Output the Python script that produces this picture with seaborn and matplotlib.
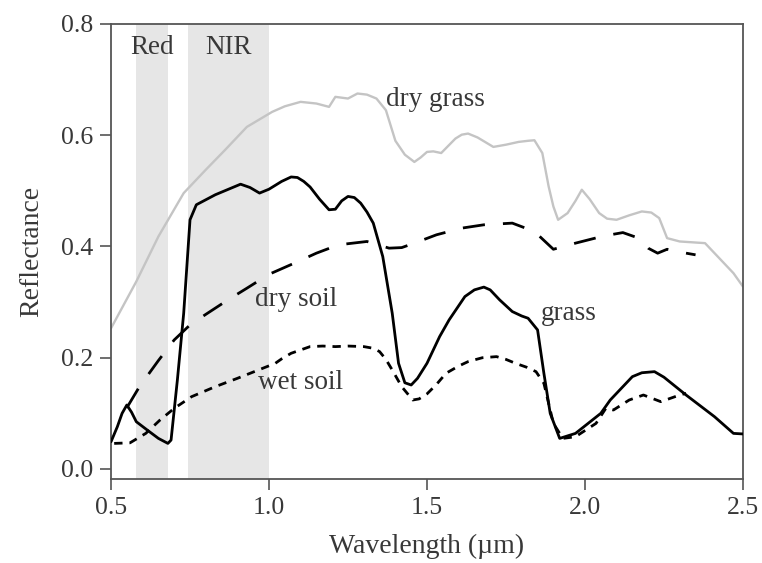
import numpy as np
import pandas as pd
import matplotlib
matplotlib.use("Agg")
import matplotlib.pyplot as plt
import seaborn as sns

# ---- data ----
grass_x = [0.50, 0.52, 0.535, 0.55, 0.565, 0.58, 0.61, 0.65, 0.68, 0.69, 0.71, 0.73, 0.75, 0.77, 0.83, 0.91,
           0.94, 0.97, 1.00, 1.04, 1.07, 1.09, 1.11, 1.13, 1.16, 1.19, 1.21, 1.23, 1.25, 1.27, 1.29, 1.31,
           1.33, 1.36, 1.39, 1.41, 1.43, 1.45, 1.47, 1.50, 1.54, 1.57, 1.62, 1.65, 1.68, 1.70, 1.73, 1.77,
           1.80, 1.82, 1.85, 1.87, 1.89, 1.92, 1.97, 2.01, 2.05, 2.08, 2.15, 2.18, 2.22, 2.25, 2.32, 2.41,
           2.47, 2.50]
grass_y = [0.049, 0.076, 0.100, 0.115, 0.102, 0.085, 0.072, 0.055, 0.046, 0.052, 0.160, 0.280, 0.448, 0.475,
           0.493, 0.512, 0.506, 0.496, 0.503, 0.517, 0.525, 0.524, 0.517, 0.507, 0.485, 0.466, 0.467, 0.482,
           0.490, 0.488, 0.478, 0.462, 0.442, 0.382, 0.280, 0.190, 0.155, 0.151, 0.163, 0.190, 0.238, 0.268,
           0.310, 0.322, 0.327, 0.322, 0.304, 0.283, 0.275, 0.271, 0.250, 0.172, 0.100, 0.055, 0.064, 0.082,
           0.100, 0.124, 0.166, 0.173, 0.175, 0.165, 0.133, 0.094, 0.064, 0.063]

drygrass_x = [0.50, 0.58, 0.65, 0.73, 0.80, 0.86, 0.93, 1.01, 1.05, 1.10, 1.15, 1.19, 1.21, 1.25, 1.28, 1.31,
              1.34, 1.37, 1.40, 1.43, 1.46, 1.48, 1.50, 1.52, 1.545, 1.59, 1.61, 1.63, 1.66, 1.71, 1.75,
              1.79, 1.82, 1.84, 1.865, 1.885, 1.90, 1.915, 1.945, 1.97, 1.99, 2.015, 2.045, 2.07, 2.10, 2.14,
              2.18, 2.21, 2.235, 2.26, 2.30, 2.38, 2.43, 2.47, 2.50]
drygrass_y = [0.253, 0.337, 0.418, 0.496, 0.538, 0.573, 0.615, 0.642, 0.652, 0.660, 0.657, 0.651, 0.669, 0.666,
              0.675, 0.673, 0.666, 0.645, 0.590, 0.565, 0.552, 0.560, 0.570, 0.571, 0.568, 0.594, 0.601, 0.603,
              0.596, 0.579, 0.583, 0.588, 0.590, 0.591, 0.568, 0.508, 0.472, 0.448, 0.460, 0.482, 0.502, 0.485,
              0.460, 0.450, 0.448, 0.456, 0.463, 0.461, 0.451, 0.415, 0.409, 0.406, 0.376, 0.352, 0.328]

drysoil_x = [0.55, 0.59, 0.65, 0.70, 0.75, 0.80, 0.87, 0.93, 1.00, 1.08, 1.15, 1.22, 1.31, 1.38, 1.42, 1.46,
             1.53, 1.61, 1.68, 1.77, 1.84, 1.90, 1.97, 2.06, 2.12, 2.17, 2.20, 2.23, 2.26, 2.30, 2.35]
drysoil_y = [0.110, 0.148, 0.195, 0.232, 0.259, 0.278, 0.304, 0.325, 0.350, 0.370, 0.388, 0.403, 0.409, 0.397,
             0.398, 0.406, 0.421, 0.433, 0.439, 0.442, 0.427, 0.395, 0.406, 0.419, 0.425, 0.415, 0.397, 0.388,
             0.395, 0.390, 0.385]

wetsoil_x = [0.51, 0.56, 0.61, 0.655, 0.70, 0.755, 0.83, 0.90, 0.98, 1.02, 1.04, 1.07, 1.13, 1.17, 1.21, 1.25,
             1.30, 1.33, 1.35, 1.37, 1.39, 1.42, 1.455, 1.475, 1.50, 1.53, 1.56, 1.60, 1.63, 1.675, 1.72, 1.75,
             1.78, 1.815, 1.845, 1.87, 1.90, 1.93, 1.97, 2.035, 2.066, 2.09, 2.14, 2.185, 2.24, 2.30, 2.32]
wetsoil_y = [0.046, 0.047, 0.064, 0.088, 0.109, 0.130, 0.148, 0.163, 0.181, 0.190, 0.198, 0.208, 0.220, 0.221,
             0.220, 0.221, 0.220, 0.217, 0.211, 0.197, 0.178, 0.148, 0.124, 0.126, 0.135, 0.152, 0.172, 0.185,
             0.193, 0.200, 0.202, 0.197, 0.190, 0.183, 0.175, 0.154, 0.082, 0.055, 0.058, 0.082, 0.109, 0.106,
             0.124, 0.133, 0.121, 0.133, 0.136]

band_names = ["Red", "NIR"]
band_lo = [0.58, 0.745]
band_hi = [0.68, 1.00]

x_ticks = [0.5, 1.0, 1.5, 2.0, 2.5]
y_ticks = [0.0, 0.2, 0.4, 0.6, 0.8]

# ---- style ----
sns.set_theme(style="ticks")
plt.rcParams["font.family"] = ["Liberation Serif", "DejaVu Serif"]
plt.rcParams["lines.scale_dashes"] = False
TXT = "#383838"
SPINE = "#555555"

fig = plt.figure(figsize=(7.62, 5.63), dpi=100)
ax = fig.add_axes([0.1457, 0.1492, 0.975 - 0.1457, 0.9574 - 0.1492])

for lo, hi in zip(band_lo, band_hi):
    ax.axvspan(lo, hi, color="#e6e6e6", lw=0, zorder=0)

df_g = pd.DataFrame({"x": grass_x, "y": grass_y})
df_dg = pd.DataFrame({"x": drygrass_x, "y": drygrass_y})
df_ds = pd.DataFrame({"x": drysoil_x, "y": drysoil_y})
df_ws = pd.DataFrame({"x": wetsoil_x, "y": wetsoil_y})

sns.lineplot(data=df_dg, x="x", y="y", ax=ax, color="#c4c4c4", linewidth=1.7, zorder=2)
sns.lineplot(data=df_ds, x="x", y="y", ax=ax, color="black", linewidth=2.0,
             linestyle=(0, (16, 13)), zorder=3)
sns.lineplot(data=df_ws, x="x", y="y", ax=ax, color="black", linewidth=2.0,
             linestyle=(0, (6, 5)), zorder=3)
sns.lineplot(data=df_g, x="x", y="y", ax=ax, color="black", linewidth=2.0, zorder=4)

ax.set_xlim(0.5, 2.5)
ax.set_ylim(-0.018, 0.8)
ax.set_xticks(x_ticks)
ax.set_yticks(y_ticks)
ax.set_xticklabels([f"{v:.1f}" for v in x_ticks])
ax.set_yticklabels([f"{v:.1f}" for v in y_ticks])
ax.tick_params(axis="both", direction="out", length=8, width=1.2, color=SPINE,
               labelsize=18.5, labelcolor=TXT, pad=5)
for s in ax.spines.values():
    s.set_color(SPINE)
    s.set_linewidth(1.3)

ax.set_xlabel("Wavelength (µm)", fontsize=20, color=TXT, labelpad=11)
ax.set_ylabel("Reflectance", fontsize=20, color=TXT, labelpad=12)

fs = 19.5
for name, lo, hi in zip(band_names, band_lo, band_hi):
    ax.text((lo + hi) / 2, 0.757, name, fontsize=fs, color=TXT, ha="center", va="center")
ax.text(1.37, 0.665, "dry grass", fontsize=fs, color=TXT, ha="left", va="center")
ax.text(0.955, 0.305, "dry soil", fontsize=fs, color=TXT, ha="left", va="center")
ax.text(0.965, 0.155, "wet soil", fontsize=fs, color=TXT, ha="left", va="center")
ax.text(1.862, 0.28, "grass", fontsize=fs, color=TXT, ha="left", va="center")

fig.savefig("out.png", dpi=100)
